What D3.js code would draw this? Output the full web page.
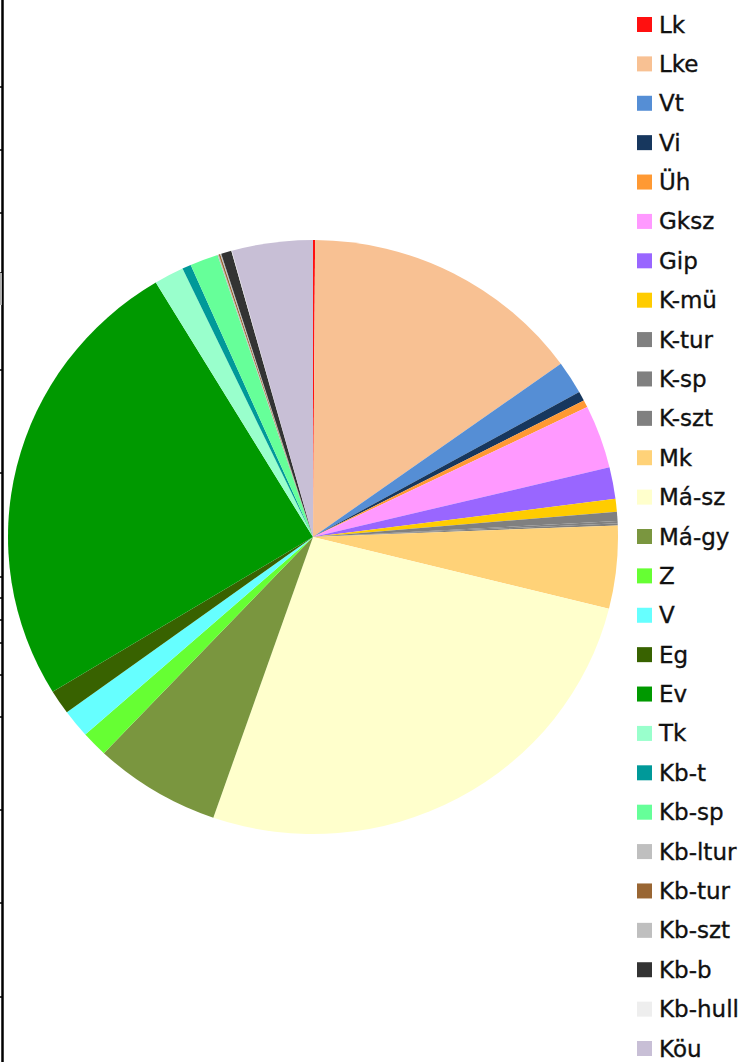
<!DOCTYPE html>
<html lang="hu">
<head>
    <meta charset="UTF-8">
    <title>Területhasználat megoszlása</title>
    <style>
        body { margin: 0; background: #fff; }
        svg { display: block; }
        .legend text {
          font: 23px "DejaVu Sans", sans-serif;
          fill: #111;
          stroke: #111;
          stroke-width: 0.35px;
        }
    </style>
</head>
<body>
    <div id="chart"></div>
    <script src="https://d3js.org/d3.v7.min.js"></script>
    <script>
        // categories (clockwise from 12 o'clock)
        const labels = ["Lk", "Lke", "Vt", "Vi", "Üh", "Gksz", "Gip", "K-mü", "K-tur", "K-sp",
          "K-szt", "Mk", "Má-sz", "Má-gy", "Z", "V", "Eg", "Ev", "Tk", "Kb-t", "Kb-sp",
          "Kb-ltur", "Kb-tur", "Kb-szt", "Kb-b", "Kb-hull", "Köu"];

        // share of area, %
        const shares = [0.11, 14.97, 1.79, 0.51, 0.40, 3.43, 1.72, 0.69, 0.50, 0.12,
          0.12, 4.50, 26.39, 6.72, 1.39, 1.53, 1.33, 25.08, 1.58, 0.47, 1.50,
          0.06, 0.08, 0.06, 0.55, 0.03, 4.28];

        const colors = ["#ff1010", "#f8c193", "#558ed5", "#17375e", "#ff9933", "#ff99ff",
          "#9966ff", "#ffcc00", "#808080", "#808080", "#808080", "#ffd278", "#ffffcc",
          "#7a963f", "#66ff33", "#66ffff", "#386200", "#009900", "#99ffcc", "#009999",
          "#66ff99", "#bfbfbf", "#996633", "#bfbfbf", "#333333", "#eeeeee", "#c8bfd6"];

        // leftover axis ticks along the cropped left edge
        const edgeTicks = [87, 150, 213, 273, 370, 473, 577, 598, 620, 643, 675, 717, 810, 903, 997];

        const width = 751, height = 1062;
        const cx = 313, cy = 537, r = 305, squash = 297 / 305;

        const svg = d3.select("#chart").append("svg")
          .attr("width", width)
          .attr("height", height);

        // left frame line
        svg.append("line")
          .attr("x1", 2.5).attr("x2", 2.5)
          .attr("y1", 0).attr("y2", height)
          .attr("stroke", "#000")
          .attr("stroke-width", 2.5);

        svg.selectAll(".etick")
          .data(edgeTicks)
          .enter().append("line")
          .attr("class", "etick")
          .attr("x1", 0).attr("x2", 3)
          .attr("y1", d => d).attr("y2", d => d)
          .attr("stroke", "#000")
          .attr("stroke-width", 1.5);

        svg.append("rect")
          .attr("x", 0).attr("y", 273)
          .attr("width", 2).attr("height", 32)
          .attr("fill", "#b0b0b0");

        const data = labels.map((l, i) => ({ name: l, value: shares[i], color: colors[i] }));

        const pie = d3.pie()
          .sort(null)
          .value(d => d.value);

        const arc = d3.arc()
          .innerRadius(0)
          .outerRadius(r);

        const g = svg.append("g")
          .attr("transform", `translate(${cx},${cy}) scale(1,${squash})`);

        g.selectAll("path")
          .data(pie(data))
          .enter().append("path")
          .attr("d", arc)
          .attr("fill", d => d.data.color);

        // legend
        const ly = d3.scalePoint()
          .domain(labels)
          .range([24, 1048]);

        const item = svg.append("g")
          .attr("class", "legend")
          .selectAll("g")
          .data(data)
          .enter().append("g")
          .attr("transform", d => `translate(637,${ly(d.name)})`);

        item.append("rect")
          .attr("x", 0).attr("y", -7)
          .attr("width", 15).attr("height", 15)
          .attr("fill", d => d.color);

        item.append("text")
          .attr("x", 22)
          .attr("y", 8.5)
          .text(d => d.name);
    </script>
</body>
</html>
